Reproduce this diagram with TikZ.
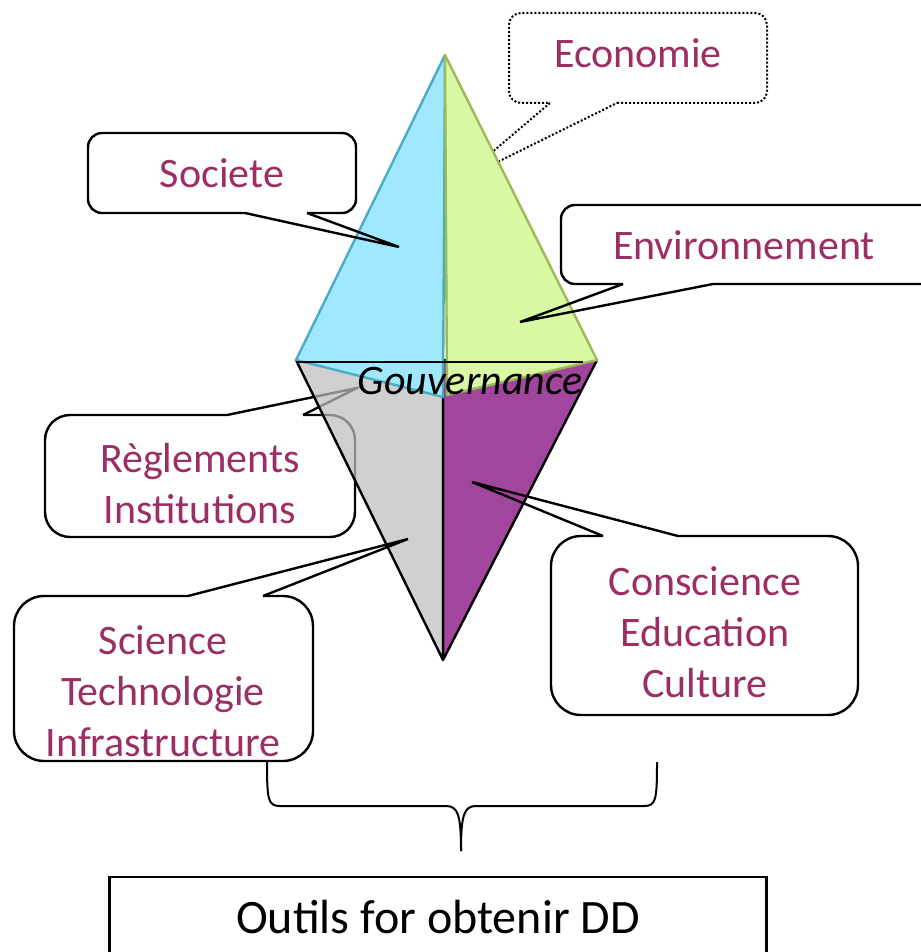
\documentclass[tikz,border=0pt]{standalone}
\usepackage{fontspec}
\setmainfont{Carlito}
\definecolor{plum}{RGB}{155,46,98}
\definecolor{skyface}{RGB}{160,232,255}
\definecolor{skyedge}{RGB}{75,172,198}
\definecolor{limeface}{RGB}{217,249,165}
\definecolor{limeedge}{RGB}{155,187,89}
\definecolor{greyface}{RGB}{190,190,190}
\definecolor{violetface}{RGB}{162,69,156}

\begin{document}
\begin{tikzpicture}[x=1pt,y=-1pt]
\tikzstyle{every node}=[font=\fontsize{42}{51}\selectfont]
\tikzstyle{bubbletext}=[text=plum,align=center]
\tikzstyle{bubble}=[draw=black,line width=2.4pt]
\tikzstyle{face}=[line width=2.4pt,line join=round]
\useasboundingbox (0,0) rectangle (920,952);

% callouts lying behind the pyramid
\draw[bubble,line width=2pt,dotted,rounded corners=12] (617,103) -| (767,13) -| (509,103) -- (550,103);
\draw[bubble,line width=2pt,dotted] (550,103) -- (457,182) -- (617,103);
\node[bubbletext] (economie) at (638,53) {Economie};

\draw[bubble,rounded corners=25] (303,415) -| (355,537) -| (45,415) -- (227,415);
\draw[bubble] (227,415) -- (357,388) -- (303,415);
\node[bubbletext] (reglements) at (200,484) {Règlements\\Institutions};

% the two pyramids
\draw[face,fill=violetface] (597,360) -- (443,360) -- (443,660) -- cycle;
\draw[face,fill=greyface,fill opacity=0.72] (296,360) -- (443,362) -- (443,660) -- cycle;
\draw[face,draw=skyedge,fill=skyface] (445,55) -- (296,360) -- (443,397) -- cycle;
\draw[face,draw=limeedge,fill=limeface] (445,55) -- (447,395) -- (597,360) -- cycle;
\draw[line width=2.4pt] (296,362) -- (583,362);
\node[font=\fontsize{42}{51}\selectfont\itshape] (gouvernance) at (470,381) {Gouvernance};

% callouts in front
\draw[bubble,rounded corners=14] (307,213) -| (356,133) -| (88,213) -- (245,213);
\draw[bubble] (245,213) -- (399,247) -- (307,213);
\node[bubbletext] (societe) at (222,173) {Societe};

\draw[bubble,rounded corners=14] (713,284) -| (940,205) -| (561,284) -- (623,284);
\draw[bubble] (623,284) -- (520,322) -- (713,284);
\node[bubbletext] (environnement) at (744,245) {Environnement};

\draw[bubble,rounded corners=30] (263,596) -| (313,761) -| (14,596) -- (188,596);
\draw[bubble] (188,596) -- (408,539) -- (263,596);
\node[bubbletext] (science) at (163,691) {Science\\Technologie\\Infrastructure};

\draw[bubble,rounded corners=30] (678,536) -| (858,715) -| (551,536) -- (603,536);
\draw[bubble] (603,536) -- (472,482) -- (678,536);
\node[bubbletext] (conscience) at (705,632) {Conscience\\Education\\Culture};

% brace and result
\draw[line width=2pt] (267,762) .. controls (267,800) and (268,806) .. (280,806) -- (446,806)
  .. controls (458,806) and (461,815) .. (461,851);
\draw[line width=2pt] (657,762) .. controls (657,800) and (656,806) .. (644,806) -- (476,806)
  .. controls (464,806) and (461,815) .. (461,851);
\node[draw,line width=2.4pt,minimum width=657pt,minimum height=80pt,inner sep=0pt,
  font=\fontsize{48}{56}\selectfont] (outils) at (438,917) {Outils for obtenir DD};
\end{tikzpicture}
\end{document}
